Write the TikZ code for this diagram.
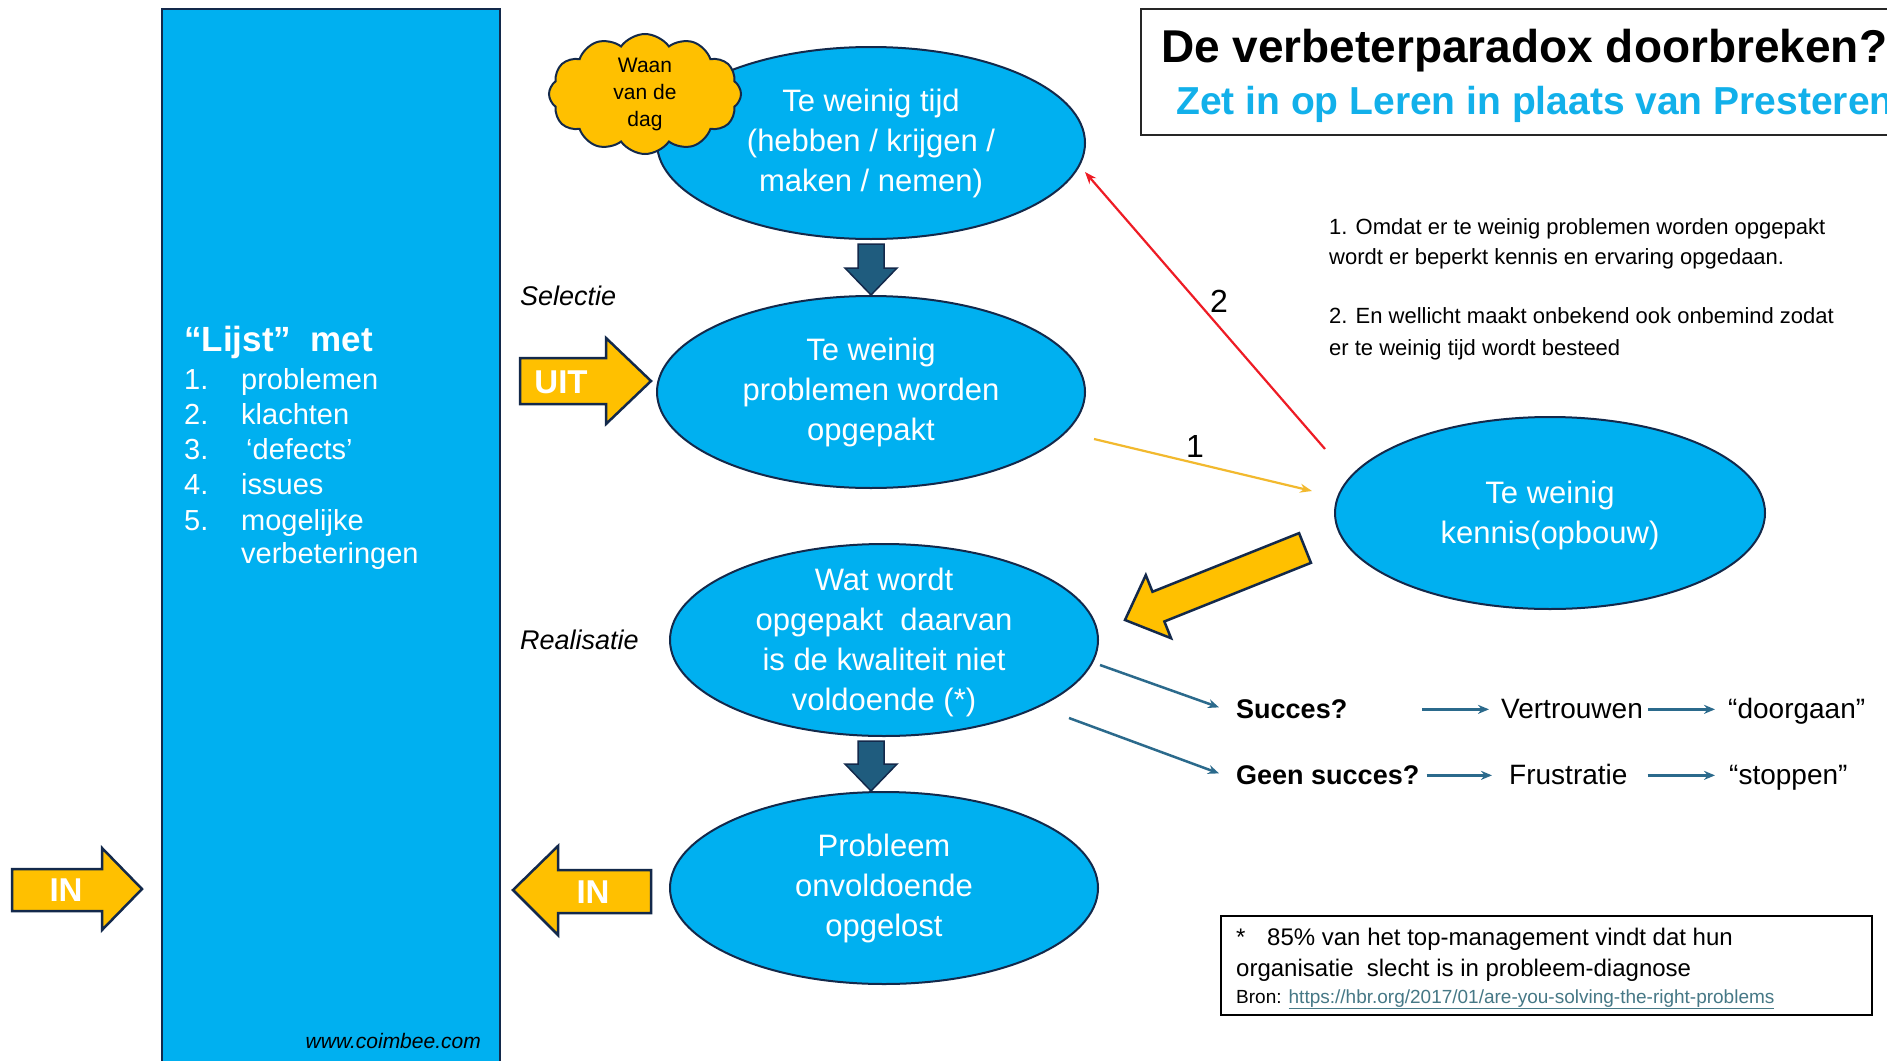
\documentclass[tikz,border=0pt]{standalone}
\usepackage{fontspec}
\setmainfont{Liberation Sans}
\usetikzlibrary{shapes.geometric,shapes.symbols,calc,arrows.meta}
\definecolor{cyanfill}{HTML}{00B0F0}
\definecolor{navyline}{HTML}{13294B}
\definecolor{yel}{HTML}{FFC000}
\definecolor{darkarrow}{HTML}{1F5C7E}
\definecolor{tealarrow}{HTML}{2B6A8C}
\definecolor{titlecyan}{HTML}{12B0EA}
\definecolor{redline}{HTML}{EE1C25}
\definecolor{yelline}{HTML}{F2B92E}
\definecolor{linkcol}{HTML}{467886}
\newcommand{\fsz}[2]{\fontsize{#1}{#2}\selectfont}
\newcommand{\downblk}[2]{\path[downarrow] ($(#1)+(-13,0)$) -- ($(#1)+(13,0)$) -- ($(#2)+(13,-27)$) -- ($(#2)+(26,-27)$) -- (#2) -- ($(#2)+(-26,-27)$) -- ($(#2)+(-13,-27)$) -- cycle;}
\begin{document}
\begin{tikzpicture}[x=1pt,y=-1pt,
  bubble/.style={ellipse, draw=navyline, line width=2pt, fill=cyanfill, minimum width=428pt, minimum height=192pt, inner sep=0pt},
  bubbletext/.style={text=white, align=center, font=\fsz{31}{40}, inner sep=0pt},
  blockarrow/.style={fill=yel, draw=navyline, line width=2.5pt, line join=miter},
  downarrow/.style={fill=darkarrow, draw=navyline, line width=1.5pt, line join=miter},
  arrowtext/.style={text=white, font=\bfseries\fsz{33}{36}, inner sep=0pt},
  stagelabel/.style={font=\itshape\fsz{27}{30}, anchor=base west, inner sep=0pt},
  listtxt/.style={text=white, font=\fsz{29}{35}, anchor=base west, inner sep=0pt},
  notetxt/.style={font=\fsz{22}{30}, anchor=base west, inner sep=0pt},
  rowtxt/.style={font=\fsz{28}{30}, anchor=base west, inner sep=0pt},
  rowbold/.style={font=\bfseries\fsz{27}{30}, anchor=base west, inner sep=0pt},
  thinarrow/.style={line width=2.5pt, draw=tealarrow, -{Stealth[length=11pt,width=9pt]}},
  numlabel/.style={font=\fsz{32}{34}, inner sep=0pt},
]
\useasboundingbox[fill=white] (0,0) rectangle (1887,1060);

% list box
\node[draw=navyline, line width=1.5pt, fill=cyanfill, minimum width=338pt, minimum height=1080pt, anchor=north west, inner sep=0pt] (lijstbox) at (161,8) {};
\node[text=white, font=\bfseries\fsz{35}{40}, anchor=base west, inner sep=0pt] (lijsthead) at (184,351) {“Lijst”\ \ met};
\node[listtxt] (num1) at (184,389) {1.};
\node[listtxt] (item1) at (241,389) {problemen};
\node[listtxt] (num2) at (184,424) {2.};
\node[listtxt] (item2) at (241,424) {klachten};
\node[listtxt] (num3) at (184,459) {3.};
\node[listtxt] (item3) at (246,459) {‘defects’};
\node[listtxt] (num4) at (184,494) {4.};
\node[listtxt] (item4) at (241,494) {issues};
\node[listtxt] (num5) at (184,530) {5.};
\node[listtxt] (item5) at (241,530) {mogelijke};
\node[listtxt] (item5b) at (241,563) {verbeteringen};
\node[font=\itshape\fsz{21}{24}, anchor=base east, inner sep=0pt] (www) at (481,1048) {www.coimbee.com};

% ellipses
\node[bubble, label={[bubbletext]center:{Te weinig tijd\\(hebben / krijgen /\\maken / nemen)}}] (tijd) at (871,143) {};
\node[bubble, label={[bubbletext]center:{Te weinig\\problemen worden\\opgepakt}}] (weinig) at (871,392) {};
\node[bubble, label={[bubbletext, yshift=-2pt]center:{Wat wordt\\opgepakt\ \ daarvan\\is de kwaliteit niet\\voldoende (*)}}] (kwaliteit) at (884,640) {};
\node[bubble, label={[bubbletext]center:{Probleem\\onvoldoende\\opgelost}}] (probleem) at (884,888) {};
\node[bubble, minimum width=430pt, label={[bubbletext, yshift=-2pt]center:{Te weinig\\kennis(opbouw)}}] (kennis) at (1550,513) {};

% cloud
\node[cloud, cloud puffs=12, cloud puff arc=110, cloud ignores aspect, draw=navyline, line width=2pt, fill=yel, minimum width=192pt, minimum height=120pt, inner sep=0pt, align=center, font=\fsz{21}{27}, text=black] (waan) at (645,94) {Waan\\van de\\dag};

% stage labels
\node[stagelabel] (selectie) at (520,305) {Selectie};
\node[stagelabel] (realisatie) at (520,649) {Realisatie};

% dark down arrows
\coordinate (d1top) at ($(tijd.south)+(0,4)$);
\coordinate (d1tip) at (weinig.north);
\downblk{d1top}{d1tip}
\coordinate (d2top) at ($(kwaliteit.south)+(-13,4)$);
\coordinate (d2tip) at ($(probleem.north)+(-13,0)$);
\downblk{d2top}{d2tip}

% UIT arrow
\path[blockarrow] (520,358) -- (606,358) -- (606,338) -- (651,381) -- (606,424) -- (606,404) -- (520,404) -- cycle;
\node[arrowtext] (uit) at (561,382) {UIT};
% IN arrow near probleem
\path[blockarrow] (651,870) -- (558,870) -- (558,846) -- (513,890) -- (558,935) -- (558,913) -- (651,913) -- cycle;
\node[arrowtext] (in2) at (593,892) {IN};
% IN arrow far left
\path[blockarrow] (12,869) -- (102,869) -- (102,848) -- (142,889) -- (102,930) -- (102,911) -- (12,911) -- cycle;
\node[arrowtext] (in1) at (66,890) {IN};

% big yellow diagonal arrow from kennis to kwaliteit
\coordinate (yt) at ($(kennis.center)+(-245,35)$);
\coordinate (yp) at ($(kwaliteit.center)+(241,-20)$);
\coordinate (yb) at ($(yp)!36pt!(yt)$);
\path[blockarrow] ($(yt)!16pt!90:(yp)$) -- ($(yb)!16pt!90:(yp)$) -- ($(yb)!34pt!90:(yp)$) -- (yp) -- ($(yb)!34pt!-90:(yp)$) -- ($(yb)!16pt!-90:(yp)$) -- ($(yt)!16pt!-90:(yp)$) -- cycle;

% thin arrows 1 and 2
\draw[line width=2.2pt, draw=yelline, -{Stealth[length=12pt,width=9pt]}] ($(weinig.center)+(223,47)$) -- ($(kennis.center)+(-238,-22)$);
\node[numlabel] (een) at (1195,446) {1};
\draw[line width=2.2pt, draw=redline, -{Stealth[length=12pt,width=9pt]}] ($(kennis.center)+(-225,-64)$) -- ($(tijd.center)+(214,29)$);
\node[numlabel] (twee) at (1219,301) {2};

% explanation
\node[notetxt] (n1a) at (1329,234) {1. Omdat er te weinig problemen worden opgepakt};
\node[notetxt] (n1b) at (1329,264) {wordt er beperkt kennis en ervaring opgedaan.};
\node[notetxt] (n2a) at (1329,323) {2. En wellicht maakt onbekend ook onbemind zodat};
\node[notetxt] (n2b) at (1329,355) {er te weinig tijd wordt besteed};

% success rows
\node[rowbold] (succes) at (1236,718) {Succes?};
\node[rowtxt] (vertrouwen) at (1501,718) {Vertrouwen};
\node[rowtxt] (doorgaan) at (1728,718) {“doorgaan”};
\node[rowbold] (geen) at (1236,784) {Geen succes?};
\node[rowtxt] (frustratie) at (1509,784) {Frustratie};
\node[rowtxt] (stoppen) at (1729,784) {“stoppen”};

\draw[thinarrow] ($(kwaliteit.center)+(216,25)$) -- ($(succes.mid west)+(-17,-8)$);
\draw[thinarrow] ($(kwaliteit.center)+(185,78)$) -- ($(geen.mid west)+(-17,-8)$);
\draw[thinarrow, shorten <=75pt, shorten >=12pt] ($(succes.mid east)+(0,-6)$) -- ($(vertrouwen.mid west)+(0,-6)$);
\draw[thinarrow, shorten <=5pt, shorten >=13pt] ($(vertrouwen.mid east)+(0,-6)$) -- ($(doorgaan.mid west)+(0,-6)$);
\draw[thinarrow, shorten <=7pt, shorten >=17pt] ($(geen.mid east)+(0,-6)$) -- ($(frustratie.mid west)+(0,-6)$);
\draw[thinarrow, shorten <=20pt, shorten >=14pt] ($(frustratie.mid east)+(0,-6)$) -- ($(stoppen.mid west)+(0,-6)$);

% footnote
\node[draw=black, line width=1.5pt, minimum width=651pt, minimum height=99pt, anchor=north west, inner sep=0pt] (footbox) at (1220,915) {};
\node[font=\fsz{24}{28}, anchor=base west, inner sep=0pt] (fn1) at (1236,945) {\makebox[31pt][l]{*}85\% van het top-management vindt dat hun};
\node[font=\fsz{24}{28}, anchor=base west, inner sep=0pt] (fn2) at (1236,976) {organisatie\ \ slecht is in probleem-diagnose};
\node[font=\fsz{19}{22}, anchor=base west, inner sep=0pt] (fn3) at (1236,1003) {Bron: \textcolor{linkcol}{\underline{https://hbr.org/2017/01/are-you-solving-the-right-problems}}};

% title
\node[draw=black!85, line width=1.5pt, minimum width=800pt, minimum height=126pt, anchor=north west, inner sep=0pt] (titlebox) at (1140,8) {};
\node[font=\bfseries\fsz{46}{50}, anchor=base west, inner sep=0pt] (title) at (1161,62) {De verbeterparadox doorbreken?};
\node[font=\bfseries\fsz{39}{44}, text=titlecyan, anchor=base west, inner sep=0pt] (subtitle) at (1176,114) {Zet in op Leren in plaats van Presteren};
\end{tikzpicture}
\end{document}
